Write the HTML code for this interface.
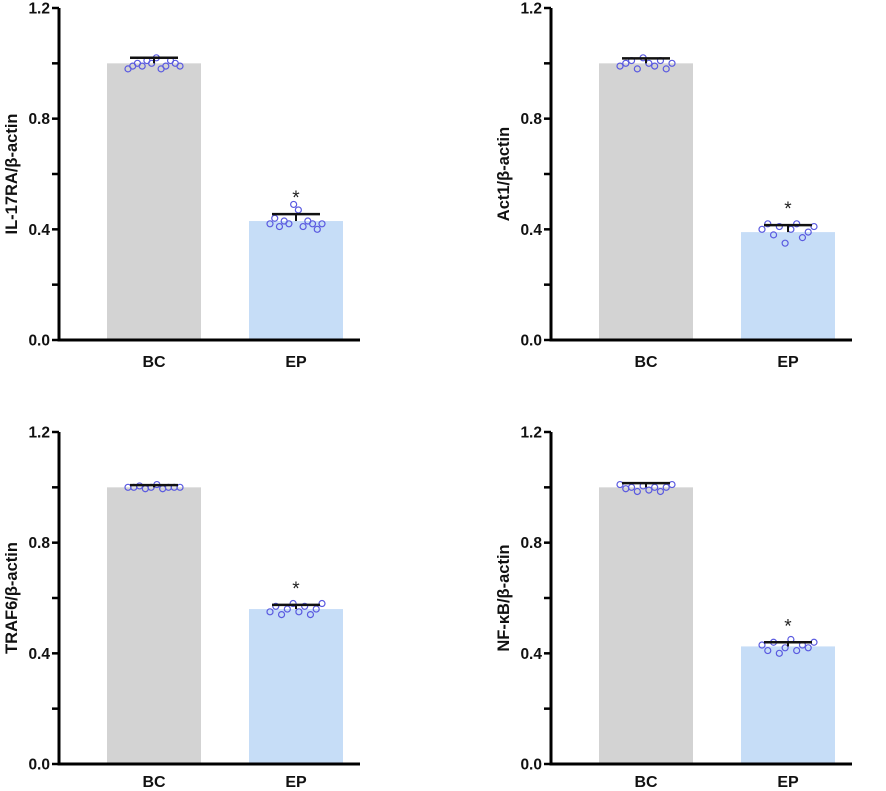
<!DOCTYPE html>
<html><head><meta charset="utf-8"><style>
body{margin:0;background:#fff;}
svg{display:block;font-family:"Liberation Sans",Arial,sans-serif;}
</style></head><body>
<svg id="c" width="886" height="791"></svg>
<script>
const categories = ["BC","EP"];
const yTicks = [0.0,0.4,0.8,1.2];
const panelTitles = ["IL-17RA/β-actin","Act1/β-actin","TRAF6/β-actin","NF-κB/β-actin"];
const means = [[1.0,0.43],[1.0,0.39],[1.0,0.56],[1.0,0.425]];
const errs = [[0.02,0.025],[0.018,0.025],[0.008,0.015],[0.015,0.015]];
const pointsBC = [
 [0.98,0.99,1.0,0.99,1.01,1.0,1.02,0.98,0.99,1.01,1.0,0.99],
 [0.99,1.0,1.01,0.98,1.02,1.0,0.99,1.01,0.98,1.0],
 [1.0,1.0,1.005,0.995,1.0,1.01,0.995,1.0,1.0,1.0],
 [1.01,0.995,1.0,0.985,1.005,0.99,1.0,0.985,1.0,1.01]
];
const pointsEP = [
 [0.42,0.44,0.41,0.43,0.42,0.49,0.47,0.41,0.43,0.42,0.4,0.42],
 [0.4,0.42,0.38,0.41,0.35,0.4,0.42,0.37,0.39,0.41],
 [0.55,0.57,0.54,0.56,0.58,0.55,0.57,0.54,0.56,0.58],
 [0.43,0.41,0.44,0.4,0.42,0.45,0.41,0.43,0.42,0.44]
];
const svg=document.getElementById('c');
const NS="http://www.w3.org/2000/svg";
function mk(tag,attrs,parent){const e=document.createElementNS(NS,tag);for(const k in attrs)e.setAttribute(k,attrs[k]);(parent||svg).appendChild(e);return e;}
const panels=[{ax:59,top:8,bot:340},{ax:551,top:8,bot:340},{ax:59,top:432,bot:764},{ax:551,top:432,bot:764}];
const colors=["#d3d3d3","#c6ddf7"];
panels.forEach((p,pi)=>{
 const g=mk('g',{});
 
 
 const y=v=>p.bot-(v/1.2)*(p.bot-p.top);
 const barX=[p.ax+48,p.ax+190], bw=94;
 categories.forEach((c,ci)=>{
  const b=mk('rect',{x:barX[ci],y:y(means[pi][ci]),width:bw,height:p.bot-y(means[pi][ci]),fill:colors[ci]},g);
  
  
  const cx=barX[ci]+bw/2;
  const pts=ci===0?pointsBC[pi]:pointsEP[pi];
  pts.forEach((v,i)=>{
   const n=pts.length;const px=cx-26+52*i/(n-1);
   const d=mk('circle',{cx:px,cy:y(v),r:3,fill:"none",stroke:"#5a5ae0","stroke-width":1.2},g);
   
   
  });
  const m=means[pi][ci],e=errs[pi][ci];
  mk('line',{x1:cx,x2:cx,y1:y(m),y2:y(m+e),stroke:"#111","stroke-width":2},g);
  const eb=mk('line',{x1:cx-24,x2:cx+24,y1:y(m+e),y2:y(m+e),stroke:"#111","stroke-width":2.5},g);
  
  
  if(ci===1){const s=mk('text',{x:cx,y:y(m+e)-10,"text-anchor":"middle","font-size":19,fill:"#222"},g);s.textContent="*";
   }
  const t=mk('text',{x:cx,y:p.bot+(pi<2?27:23),"text-anchor":"middle","font-size":16,"font-weight":"bold",fill:"#111"},g);
  t.textContent=c;
  
  
 });
 const ya=mk('line',{x1:p.ax,x2:p.ax,y1:p.top,y2:p.bot+1.5,stroke:"#000","stroke-width":3},g);
 
 const xa=mk('line',{x1:p.ax-1.5,x2:p.ax+301,y1:p.bot,y2:p.bot,stroke:"#000","stroke-width":3},g);
 
 for(let v=0;v<=1.2001;v+=0.2){mk('line',{x1:p.ax-7,x2:p.ax,y1:y(v),y2:y(v),stroke:"#000","stroke-width":2.5},g);}
 yTicks.forEach(v=>{const t=mk('text',{x:p.ax-9,y:y(v)+5.5,"text-anchor":"end","font-size":15.5,"font-weight":"bold",fill:"#111"},g);t.textContent=v.toFixed(1);
  });
 const yt=mk('text',{x:0,y:0,transform:`translate(${p.ax-42},${(p.top+p.bot)/2}) rotate(-90)`,"text-anchor":"middle","font-size":16.5,"font-weight":"bold",fill:"#111"},g);
 yt.textContent=panelTitles[pi];
 
});
</script>
</body></html>
